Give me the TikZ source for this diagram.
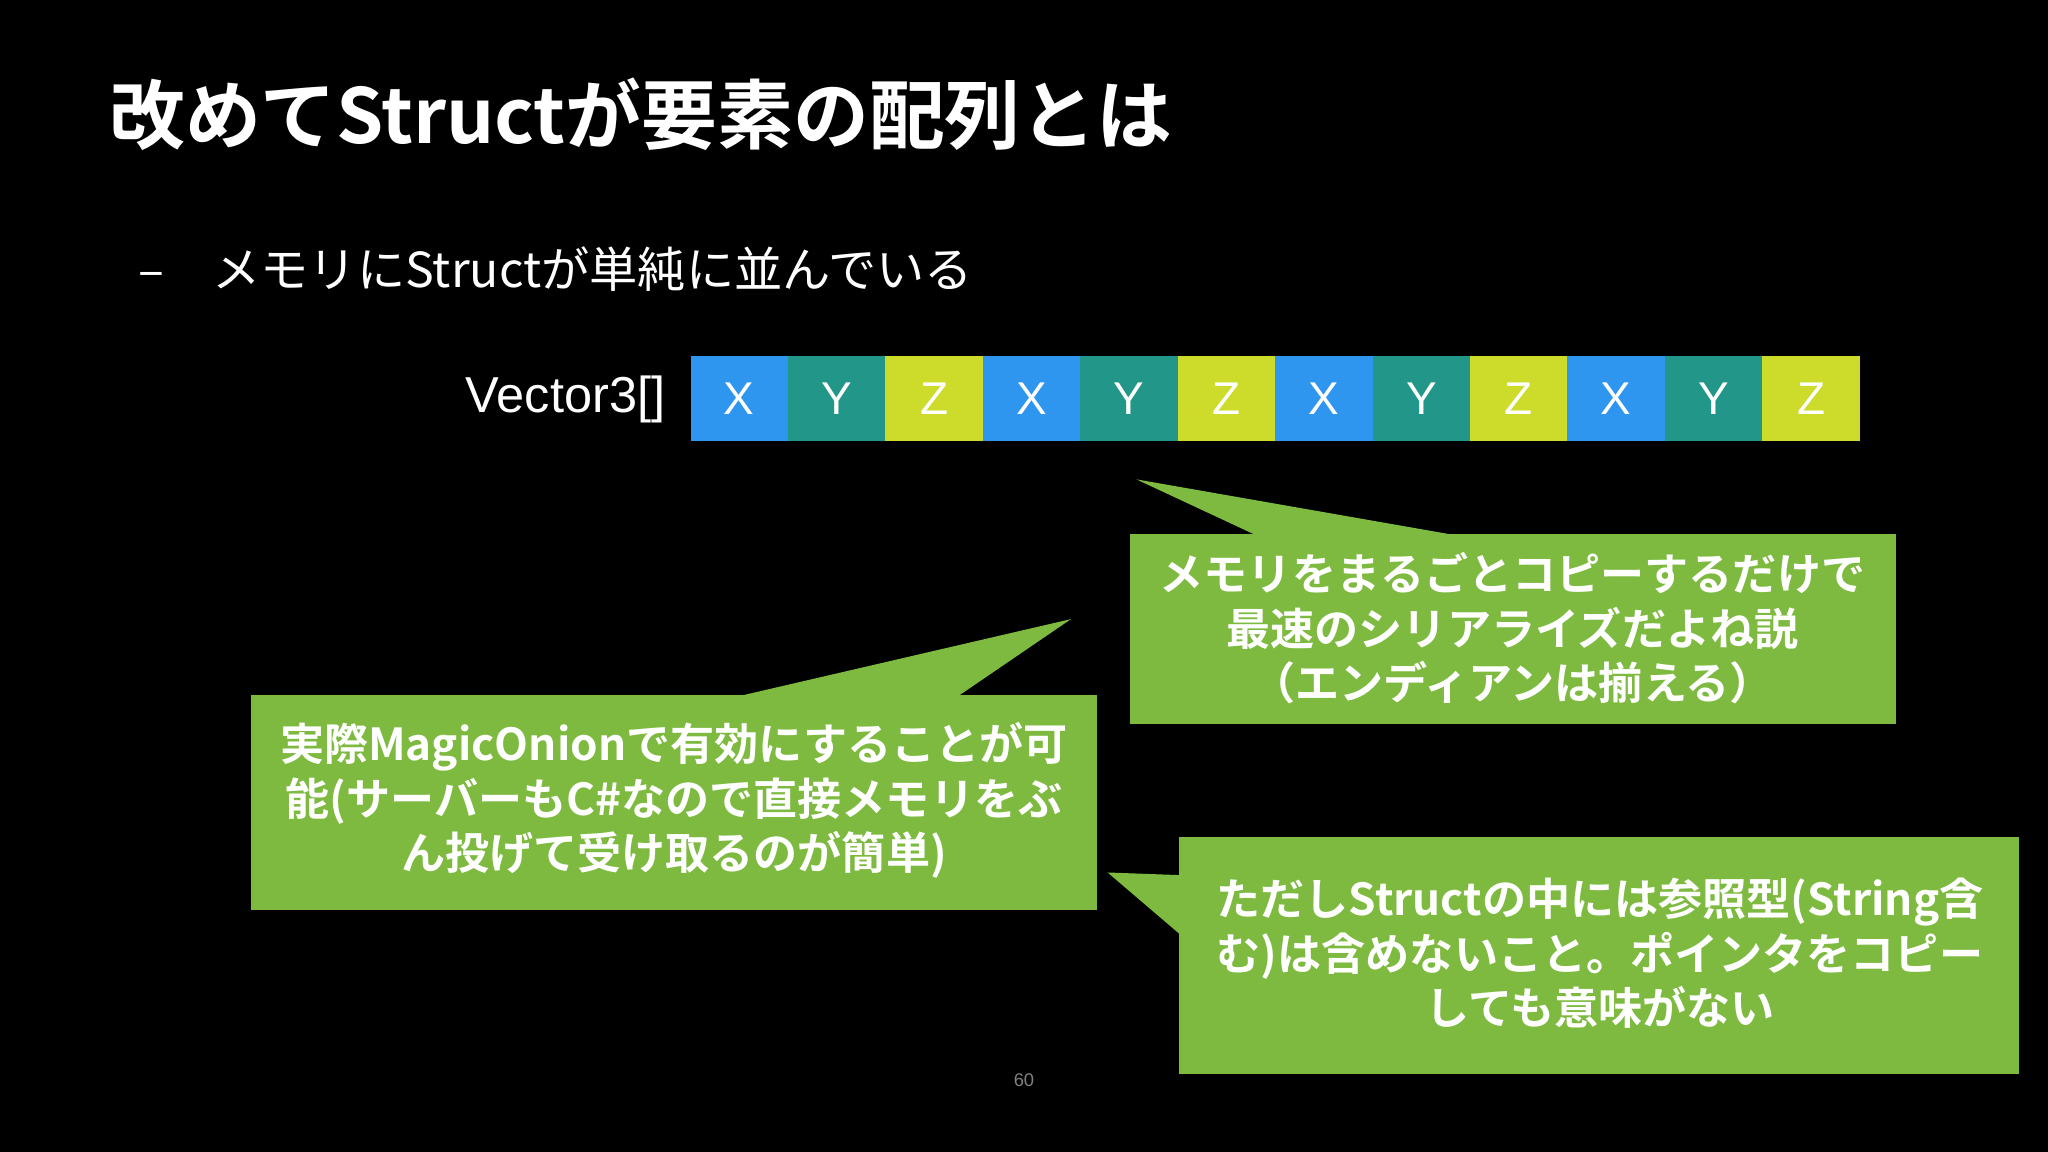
\documentclass[tikz,border=0pt]{standalone}
\usepackage{fontspec}
\setmainfont{Noto Sans CJK JP}
\newfontfamily\jpb{Noto Sans CJK JP Bold}
\newfontfamily\jpr{Noto Sans CJK JP}
\newfontfamily\lat{Liberation Sans}
\definecolor{cb}{HTML}{2F96F0}
\definecolor{ct}{HTML}{23968A}
\definecolor{cl}{HTML}{CDDC2A}
\definecolor{gr}{HTML}{7DBA3F}
\tikzset{cell/.style={minimum width=0.746cm,minimum height=0.65cm,inner sep=0,anchor=north west,text=white,font=\lat\fontsize{10}{12}\selectfont},
callout/.style={fill=gr,draw=none},
ctext/.style={text=white,align=center,font=\jpb\fontsize{9.6}{11.9}\selectfont,inner sep=0}}
\begin{document}
\begin{tikzpicture}[x=0.01cm,y=-0.01cm]
\fill[black] (0,0) rectangle (1568,882);
\useasboundingbox (0,0) rectangle (1568,882);
\node[anchor=base west,text=white,font=\jpb\fontsize{16.5}{20}\selectfont,inner sep=0] (title) at (83,110) {改めてStructが要素の配列とは};
\node[anchor=base west,text=white,font=\jpr\fontsize{10.5}{13}\selectfont,inner sep=0] (dash) at (105,220) {–};
\node[anchor=base west,text=white,font=\jpr\fontsize{10.5}{13}\selectfont,inner sep=0] (bullet) at (162,220) {メモリにStructが単純に並んでいる};
\node[anchor=base east,text=white,font=\lat\fontsize{11}{13}\selectfont,inner sep=0] (vec) at (510,316) {Vector3[]};
\foreach \i/\l/\c in {0/X/cb,1/Y/ct,2/Z/cl,3/X/cb,4/Y/ct,5/Z/cl,6/X/cb,7/Y/ct,8/Z/cl,9/X/cb,10/Y/ct,11/Z/cl}{
  \node[cell,fill=\c] (c\i) at ({528+74.6*\i},272) {\l};
}
% callout 1
\fill[callout] (865,409) rectangle (1452,554);
\fill[callout] (870,367) -- (1110,409) -- (960,409) -- cycle;
\node[ctext] (t1) at (1158,481) {メモリをまるごとコピーするだけで\\最速のシリアライズだよね説\\（エンディアンは揃える）};
% callout 2
\fill[callout] (192,532) rectangle (840,697);
\fill[callout] (820,474) -- (735,532) -- (570,532) -- cycle;
\node[ctext] (t2) at (516,613) {実際MagicOnionで有効にすることが可\\能(サーバーもC\#なので直接メモリをぶ\\ん投げて受け取るのが簡単)};
% callout 3
\fill[callout] (903,641) rectangle (1546,822);
\fill[callout] (848,668) -- (903,670) -- (903,715) -- cycle;
\node[ctext] (t3) at (1225,730) {ただしStructの中には参照型(String含\\む)は含めないこと。ポインタをコピー\\しても意味がない};
\node[text=gray,font=\lat\fontsize{4}{5}\selectfont] (pg) at (784,827) {60};
\end{tikzpicture}
\end{document}
